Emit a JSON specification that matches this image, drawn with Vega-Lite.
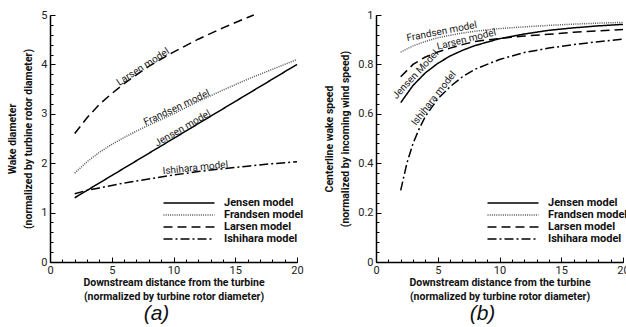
{
  "$schema": "https://vega.github.io/schema/vega-lite/v6.json",
  "padding": {"left": 7, "top": 9, "right": 0, "bottom": 0},
  "datasets": {
    "a": [
      {"m": "Jensen model", "x": 2, "y": 1.3},
      {"m": "Jensen model", "x": 5, "y": 1.75},
      {"m": "Jensen model", "x": 10, "y": 2.5},
      {"m": "Jensen model", "x": 15, "y": 3.25},
      {"m": "Jensen model", "x": 20, "y": 4.0},
      {"m": "Frandsen model", "x": 2, "y": 1.8},
      {"m": "Frandsen model", "x": 3, "y": 2.03},
      {"m": "Frandsen model", "x": 4, "y": 2.22},
      {"m": "Frandsen model", "x": 5, "y": 2.38},
      {"m": "Frandsen model", "x": 6, "y": 2.52},
      {"m": "Frandsen model", "x": 7, "y": 2.65},
      {"m": "Frandsen model", "x": 8, "y": 2.77},
      {"m": "Frandsen model", "x": 10, "y": 3.0},
      {"m": "Frandsen model", "x": 12, "y": 3.25},
      {"m": "Frandsen model", "x": 14, "y": 3.48},
      {"m": "Frandsen model", "x": 16, "y": 3.7},
      {"m": "Frandsen model", "x": 18, "y": 3.9},
      {"m": "Frandsen model", "x": 20, "y": 4.1},
      {"m": "Larsen model", "x": 2, "y": 2.6},
      {"m": "Larsen model", "x": 3, "y": 2.92},
      {"m": "Larsen model", "x": 4, "y": 3.19},
      {"m": "Larsen model", "x": 5, "y": 3.41},
      {"m": "Larsen model", "x": 6, "y": 3.61},
      {"m": "Larsen model", "x": 7, "y": 3.79},
      {"m": "Larsen model", "x": 8, "y": 3.96},
      {"m": "Larsen model", "x": 10, "y": 4.25},
      {"m": "Larsen model", "x": 12, "y": 4.51},
      {"m": "Larsen model", "x": 14, "y": 4.74},
      {"m": "Larsen model", "x": 16, "y": 4.95},
      {"m": "Larsen model", "x": 16.5, "y": 5.0},
      {"m": "Ishihara model", "x": 2, "y": 1.38},
      {"m": "Ishihara model", "x": 3, "y": 1.45},
      {"m": "Ishihara model", "x": 4, "y": 1.5},
      {"m": "Ishihara model", "x": 5, "y": 1.55},
      {"m": "Ishihara model", "x": 6, "y": 1.6},
      {"m": "Ishihara model", "x": 8, "y": 1.68},
      {"m": "Ishihara model", "x": 10, "y": 1.76},
      {"m": "Ishihara model", "x": 12, "y": 1.83},
      {"m": "Ishihara model", "x": 14, "y": 1.89},
      {"m": "Ishihara model", "x": 16, "y": 1.94},
      {"m": "Ishihara model", "x": 18, "y": 1.99},
      {"m": "Ishihara model", "x": 20, "y": 2.03}
    ],
    "b": [
      {"m": "Jensen model", "x": 2, "y": 0.645},
      {"m": "Jensen model", "x": 3, "y": 0.715},
      {"m": "Jensen model", "x": 4, "y": 0.766},
      {"m": "Jensen model", "x": 5, "y": 0.804},
      {"m": "Jensen model", "x": 6, "y": 0.834},
      {"m": "Jensen model", "x": 7, "y": 0.857},
      {"m": "Jensen model", "x": 8, "y": 0.876},
      {"m": "Jensen model", "x": 10, "y": 0.904},
      {"m": "Jensen model", "x": 12, "y": 0.923},
      {"m": "Jensen model", "x": 14, "y": 0.938},
      {"m": "Jensen model", "x": 16, "y": 0.948},
      {"m": "Jensen model", "x": 18, "y": 0.956},
      {"m": "Jensen model", "x": 20, "y": 0.962},
      {"m": "Frandsen model", "x": 2, "y": 0.85},
      {"m": "Frandsen model", "x": 3, "y": 0.875},
      {"m": "Frandsen model", "x": 4, "y": 0.893},
      {"m": "Frandsen model", "x": 5, "y": 0.908},
      {"m": "Frandsen model", "x": 6, "y": 0.918},
      {"m": "Frandsen model", "x": 7, "y": 0.927},
      {"m": "Frandsen model", "x": 8, "y": 0.934},
      {"m": "Frandsen model", "x": 10, "y": 0.945},
      {"m": "Frandsen model", "x": 12, "y": 0.952},
      {"m": "Frandsen model", "x": 14, "y": 0.958},
      {"m": "Frandsen model", "x": 16, "y": 0.963},
      {"m": "Frandsen model", "x": 18, "y": 0.967},
      {"m": "Frandsen model", "x": 20, "y": 0.97},
      {"m": "Larsen model", "x": 2, "y": 0.75},
      {"m": "Larsen model", "x": 3, "y": 0.8},
      {"m": "Larsen model", "x": 4, "y": 0.83},
      {"m": "Larsen model", "x": 5, "y": 0.85},
      {"m": "Larsen model", "x": 6, "y": 0.866},
      {"m": "Larsen model", "x": 7, "y": 0.88},
      {"m": "Larsen model", "x": 8, "y": 0.893},
      {"m": "Larsen model", "x": 10, "y": 0.905},
      {"m": "Larsen model", "x": 12, "y": 0.915},
      {"m": "Larsen model", "x": 14, "y": 0.922},
      {"m": "Larsen model", "x": 16, "y": 0.93},
      {"m": "Larsen model", "x": 18, "y": 0.936},
      {"m": "Larsen model", "x": 20, "y": 0.941},
      {"m": "Ishihara model", "x": 2, "y": 0.29},
      {"m": "Ishihara model", "x": 2.5, "y": 0.4},
      {"m": "Ishihara model", "x": 3, "y": 0.48},
      {"m": "Ishihara model", "x": 3.5, "y": 0.54},
      {"m": "Ishihara model", "x": 4, "y": 0.59},
      {"m": "Ishihara model", "x": 5, "y": 0.66},
      {"m": "Ishihara model", "x": 6, "y": 0.71},
      {"m": "Ishihara model", "x": 7, "y": 0.75},
      {"m": "Ishihara model", "x": 8, "y": 0.78},
      {"m": "Ishihara model", "x": 10, "y": 0.82},
      {"m": "Ishihara model", "x": 12, "y": 0.848},
      {"m": "Ishihara model", "x": 14, "y": 0.866},
      {"m": "Ishihara model", "x": 16, "y": 0.88},
      {"m": "Ishihara model", "x": 18, "y": 0.892},
      {"m": "Ishihara model", "x": 20, "y": 0.902}
    ]
  },
  "hconcat": [
    {
      "width": 247,
      "height": 247,
      "title": {"text": "(a)", "orient": "bottom", "anchor": "middle", "dx": -17, "offset": 1, "fontSize": 21, "fontStyle": "italic", "fontWeight": "normal", "font": "Liberation Sans", "color": "#111"},
      "resolve": {"axis": {"x": "independent", "y": "independent"}},
      "layer": [
        {
          "data": {"name": "a"},
          "mark": {"type": "line", "strokeWidth": 1.5},
          "encoding": {
            "x": {"field": "x", "type": "quantitative", "scale": {"domain": [0, 20]},
              "axis": {"orient": "bottom", "values": [0, 5, 10, 15, 20], "tickSize": -5, "labelPadding": 7, "titlePadding": 2, "titleLineHeight": 14.5,
                "title": ["Downstream distance from the turbine", "(normalized by turbine rotor diameter)"]}},
            "y": {"field": "y", "type": "quantitative", "scale": {"domain": [0, 5]},
              "axis": {"orient": "left", "values": [0, 1, 2, 3, 4, 5], "tickSize": -5, "labelPadding": 8, "titlePadding": 7, "titleLineHeight": 16,
                "title": ["Wake diameter", "(normalized by turbine rotor diameter)"]}},
            "color": {"field": "m", "type": "nominal",
              "scale": {"domain": ["Jensen model", "Frandsen model", "Larsen model", "Ishihara model"], "range": ["#000000", "#555555", "#000000", "#000000"]},
              "legend": {"orient": "none", "legendX": 133, "legendY": 182}},
            "strokeDash": {"field": "m", "type": "nominal",
              "scale": {"domain": ["Jensen model", "Frandsen model", "Larsen model", "Ishihara model"], "range": [[1, 0], [1, 1.2], [9, 5], [9, 3, 2, 3]]},
              "legend": {"orient": "none", "legendX": 133, "legendY": 182}}
          }
        },
        {"data": {"values": [{"t": "Larsen model", "x": 7.7, "y": 3.88}]}, "mark": {"type": "text", "angle": -33, "align": "center", "baseline": "alphabetic", "dy": -1, "font": "Roboto", "fontSize": 10, "color": "#222"},
          "encoding": {
            "x": {"field": "x", "type": "quantitative", "axis": {"orient": "bottom", "values": [0,1,2,3,4,5,6,7,8,9,10,11,12,13,14,15,16,17,18,19,20], "labels": false, "domain": false, "tickSize": -3, "title": null}},
            "y": {"field": "y", "type": "quantitative", "axis": {"orient": "left", "values": [0,0.2,0.4,0.6,0.8,1,1.2,1.4,1.6,1.8,2,2.2,2.4,2.6,2.8,3,3.2,3.4,3.6,3.8,4,4.2,4.4,4.6,4.8,5], "labels": false, "domain": false, "tickSize": -3, "title": null}},
            "text": {"field": "t"}}},
        {"data": {"values": [{"t": "Frandsen model", "x": 10.4, "y": 3.05}]}, "mark": {"type": "text", "angle": -25, "align": "center", "baseline": "alphabetic", "dy": -1, "font": "Roboto", "fontSize": 10, "color": "#222"}, "encoding": {"x": {"field": "x", "type": "quantitative", "axis": null}, "y": {"field": "y", "type": "quantitative", "axis": null}, "text": {"field": "t"}}},
        {"data": {"values": [{"t": "Jensen model", "x": 10.9, "y": 2.635}]}, "mark": {"type": "text", "angle": -30, "align": "center", "baseline": "alphabetic", "dy": -1, "font": "Roboto", "fontSize": 10, "color": "#222"}, "encoding": {"x": {"field": "x", "type": "quantitative", "axis": null}, "y": {"field": "y", "type": "quantitative", "axis": null}, "text": {"field": "t"}}},
        {"data": {"values": [{"t": "Ishihara model", "x": 11.8, "y": 1.825}]}, "mark": {"type": "text", "angle": -6, "align": "center", "baseline": "alphabetic", "dy": -1, "font": "Roboto", "fontSize": 10, "color": "#222"}, "encoding": {"x": {"field": "x", "type": "quantitative", "axis": null}, "y": {"field": "y", "type": "quantitative", "axis": null}, "text": {"field": "t"}}}
      ]
    },
    {
      "width": 247,
      "height": 247,
      "title": {"text": "(b)", "orient": "bottom", "anchor": "middle", "dx": -17, "offset": 1, "fontSize": 21, "fontStyle": "italic", "fontWeight": "normal", "font": "Liberation Sans", "color": "#111"},
      "resolve": {"axis": {"x": "independent", "y": "independent"}},
      "layer": [
        {
          "data": {"name": "b"},
          "mark": {"type": "line", "strokeWidth": 1.5},
          "encoding": {
            "x": {"field": "x", "type": "quantitative", "scale": {"domain": [0, 20]},
              "axis": {"orient": "bottom", "values": [0, 5, 10, 15, 20], "tickSize": -5, "labelPadding": 7, "titlePadding": 2, "titleLineHeight": 14.5,
                "title": ["Downstream distance from the turbine", "(normalized by turbine rotor diameter)"]}},
            "y": {"field": "y", "type": "quantitative", "scale": {"domain": [0, 1]},
              "axis": {"orient": "left", "values": [0, 0.2, 0.4, 0.6, 0.8, 1], "format": "~g", "tickSize": -5, "labelPadding": 8, "titlePadding": 7, "titleLineHeight": 16,
                "title": ["Centerline wake speed", "(normalized by incoming wind speed)"]}},
            "color": {"field": "m", "type": "nominal",
              "scale": {"domain": ["Jensen model", "Frandsen model", "Larsen model", "Ishihara model"], "range": ["#000000", "#555555", "#000000", "#000000"]},
              "legend": {"orient": "none", "legendX": 131, "legendY": 182}},
            "strokeDash": {"field": "m", "type": "nominal",
              "scale": {"domain": ["Jensen model", "Frandsen model", "Larsen model", "Ishihara model"], "range": [[1, 0], [1, 1.2], [9, 5], [9, 3, 2, 3]]},
              "legend": {"orient": "none", "legendX": 131, "legendY": 182}}
          }
        },
        {"data": {"values": [{"t": "Frandsen model", "x": 5.4, "y": 0.913}]}, "mark": {"type": "text", "angle": -11, "align": "center", "baseline": "alphabetic", "dy": -2, "font": "Roboto", "fontSize": 10, "color": "#222"},
          "encoding": {
            "x": {"field": "x", "type": "quantitative", "axis": {"orient": "bottom", "values": [0,1,2,3,4,5,6,7,8,9,10,11,12,13,14,15,16,17,18,19,20], "labels": false, "domain": false, "tickSize": -3, "title": null}},
            "y": {"field": "y", "type": "quantitative", "axis": {"orient": "left", "values": [0,0.04,0.08,0.12,0.16,0.2,0.24,0.28,0.32,0.36,0.4,0.44,0.48,0.52,0.56,0.6,0.64,0.68,0.72,0.76,0.8,0.84,0.88,0.92,0.96,1], "labels": false, "domain": false, "tickSize": -3, "title": null}},
            "text": {"field": "t"}}},
        {"data": {"values": [{"t": "Larsen model", "x": 7.4, "y": 0.885}]}, "mark": {"type": "text", "angle": -14, "align": "center", "baseline": "alphabetic", "dy": -1, "font": "Roboto", "fontSize": 10, "color": "#222"}, "encoding": {"x": {"field": "x", "type": "quantitative", "axis": null}, "y": {"field": "y", "type": "quantitative", "axis": null}, "text": {"field": "t"}}},
        {"data": {"values": [{"t": "Jensen Model", "x": 3.5, "y": 0.745}]}, "mark": {"type": "text", "angle": -47, "align": "center", "baseline": "alphabetic", "dy": -2, "font": "Roboto", "fontSize": 10, "color": "#222"}, "encoding": {"x": {"field": "x", "type": "quantitative", "axis": null}, "y": {"field": "y", "type": "quantitative", "axis": null}, "text": {"field": "t"}}},
        {"data": {"values": [{"t": "Ishihara model", "x": 5.0, "y": 0.65}]}, "mark": {"type": "text", "angle": -52, "align": "center", "baseline": "alphabetic", "dy": -2, "font": "Roboto", "fontSize": 10, "color": "#222"}, "encoding": {"x": {"field": "x", "type": "quantitative", "axis": null}, "y": {"field": "y", "type": "quantitative", "axis": null}, "text": {"field": "t"}}}
      ]
    }
  ],
  "spacing": 20,
  "resolve": {"scale": {"x": "independent", "y": "independent"}, "legend": {"color": "independent", "strokeDash": "independent"}},
  "config": {
    "view": {"stroke": null},
    "axis": {"grid": false, "domainColor": "#000000", "domainWidth": 1.5, "tickColor": "#000000", "tickWidth": 1, "labelFont": "Roboto", "labelFontSize": 11, "labelColor": "#222222", "labelFlush": false, "labelOverlap": false, "titleFont": "Roboto", "titleFontSize": 10.5, "titleFontWeight": "bold", "titleColor": "#111111"},
    "legend": {"title": null, "symbolType": "M-5.1,0H5.1", "symbolSize": 100, "symbolStrokeWidth": 1.5, "labelFont": "Roboto", "labelFontSize": 11, "labelFontWeight": "bold", "labelColor": "#111111", "rowPadding": 1, "padding": 0, "labelOffset": 29}
  }
}
